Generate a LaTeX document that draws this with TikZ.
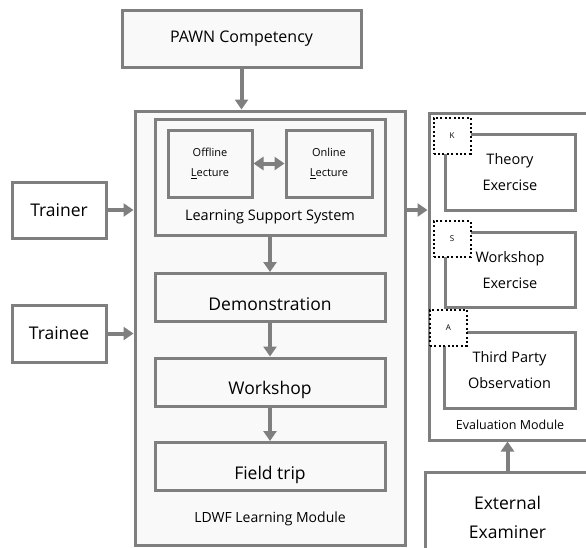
\documentclass[tikz,border=0pt]{standalone}
\usepackage{fontspec}
\setmainfont{Open Sans}
\usepackage{tikz}
\usetikzlibrary{arrows.meta}

\definecolor{linegray}{RGB}{127,127,127}
\definecolor{paper}{RGB}{249,249,249}

\tikzset{
  box/.style={draw=linegray,line width=3pt,fill=white,rectangle,inner sep=0pt,align=center},
  greybox/.style={box,fill=paper},
  stage/.style={greybox,minimum width=230pt,minimum height=48pt,font=\fontsize{17.5}{20}\selectfont,text height=25pt,text depth=0pt},
  skill/.style={draw=black,line width=2pt,dash pattern=on 2pt off 2.4pt,fill=white,inner sep=0pt,minimum width=37pt,minimum height=36pt,font=\fontsize{8}{9}\selectfont},
  flow/.style={draw=linegray,line width=4pt,-{Triangle[length=10pt,width=13pt]}},
}

\begin{document}
\begin{tikzpicture}[x=1pt,y=-1pt]
\useasboundingbox[fill=white] (0,0) rectangle (586,547);
\clip (0,0) rectangle (586,547);

\node[greybox,minimum width=239pt,minimum height=57pt,font=\fontsize{16}{18}\selectfont] (pawn) at (241.5,38.5) {PAWN Competency};

% learning module
\node[greybox,minimum width=270pt,minimum height=434pt] (ldwf) at (270,328) {};
\node[greybox,minimum width=230pt,minimum height=116pt] (lss) at (270,177) {};
\node[greybox,minimum width=84pt,minimum height=67pt,font=\fontsize{11}{20}\selectfont] (offline) at (210,163.5) {Offline\\\underline{L}ecture};
\node[greybox,minimum width=86pt,minimum height=67pt,font=\fontsize{11}{20}\selectfont] (online) at (329,163.5) {Online\\\underline{L}ecture};
\node[font=\fontsize{14.5}{16}\selectfont] (lsstext) at (270,217) {Learning Support System};
\node[stage] (demo) at (270,297.5) {Demonstration};
\node[stage] (work) at (270,382) {Workshop};
\node[stage] (field) at (270,466.5) {Field trip};
\node[font=\fontsize{14}{16}\selectfont] (ldwftext) at (270,519) {LDWF Learning Module};

\node[box,minimum width=94pt,minimum height=56pt,font=\fontsize{17.5}{20}\selectfont] (trainer) at (59,210) {Trainer};
\node[box,minimum width=94pt,minimum height=57pt,font=\fontsize{17.5}{20}\selectfont] (trainee) at (59,333.5) {Trainee};

% evaluation module
\node[box,minimum width=171pt,minimum height=327pt] (eval) at (514.5,276.5) {};
\node[box,minimum width=130pt,minimum height=76pt,font=\fontsize{14.5}{26}\selectfont] (theory) at (510,172) {Theory\\Exercise};
\node[box,minimum width=130pt,minimum height=75pt,font=\fontsize{14.5}{26}\selectfont] (wsex) at (510,270) {Workshop\\Exercise};
\node[box,minimum width=131pt,minimum height=76pt,font=\fontsize{14.5}{26}\selectfont] (third) at (509.5,370) {Third Party\\Observation};
\node[skill] (k) at (452,135.5) {K};
\node[skill] (s) at (452,239) {S};
\node[skill] (a) at (448.5,327.5) {A};
\node[font=\fontsize{12.5}{14}\selectfont] (evaltext) at (510,425) {Evaluation Module};
\node[box,minimum width=165pt,minimum height=90pt,font=\fontsize{17.5}{29}\selectfont] (ext) at (507.5,517) {External\\Examiner};

\draw[flow] (pawn.south) -- (pawn.south |- ldwf.north);
\draw[flow] (trainer.east) -- (trainer.east -| ldwf.west);
\draw[flow] (trainee.east) -- (trainee.east -| ldwf.west);
\draw[draw=linegray,line width=4pt,{Triangle[length=10pt,width=13pt]}-{Triangle[length=10pt,width=13pt]}] (offline.east) -- (online.east -| online.west);
\draw[flow] (lss.south) -- (demo.north);
\draw[flow] (demo.south) -- (work.north);
\draw[flow] (work.south) -- (field.north);
\draw[flow] (trainer.east -| ldwf.east) -- (trainer.east -| eval.west);
\draw[flow] (ext.north) -- (ext.north |- eval.south);
\end{tikzpicture}
\end{document}
